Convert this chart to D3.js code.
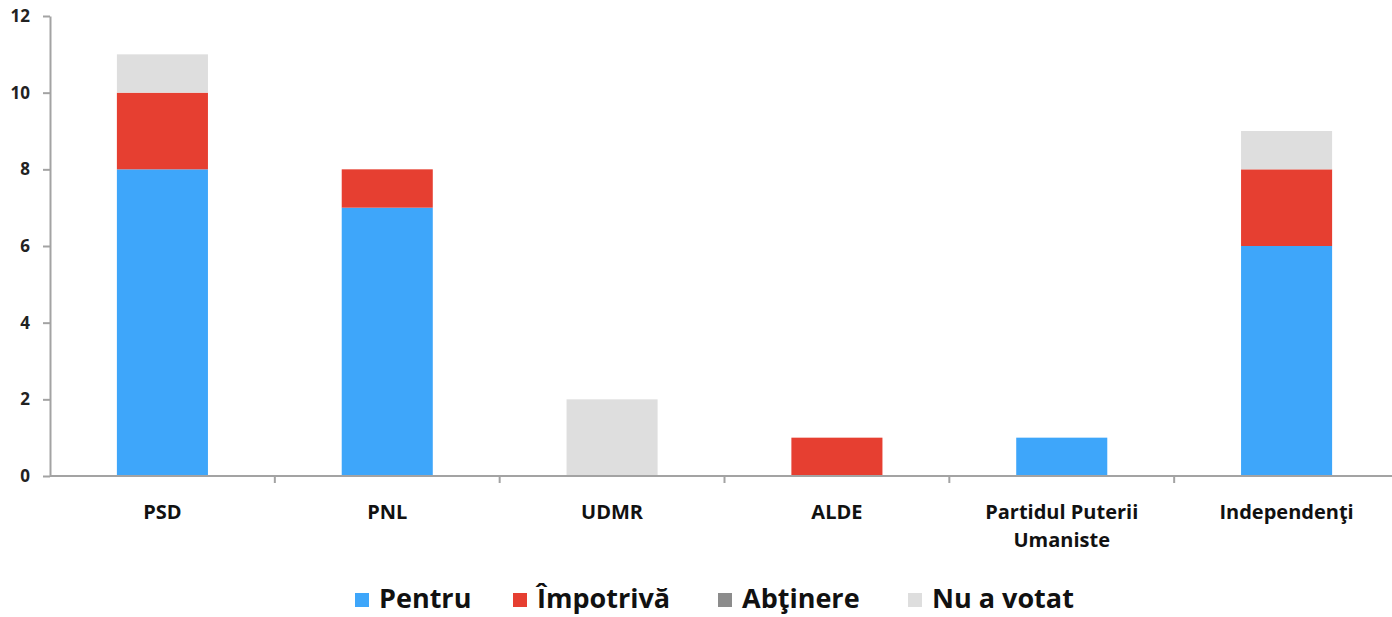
<!DOCTYPE html>
<html>
<head>
<meta charset="utf-8">
<script src="https://cdn.jsdelivr.net/npm/d3@7"></script>
<style>
	body { margin: 0; background: #fff; }
	svg { display: block; }
	svg text { font-family: "Open Sans", Lato, sans-serif; }
	.axis path, .axis line { stroke: #a3a3a3; stroke-width: 2; }
	.yAxis text { font-size: 17px; font-weight: bold; fill: #222; }
	.catLabel { font-size: 20px; font-weight: bold; fill: #111; }
	.legendText { font-size: 27px; font-weight: bold; fill: #111; }
</style>
</head>
<body>
<svg class="chart" width="1392" height="617"></svg>
<script>
// categories (parties) and vote counts per series
var parties = ["PSD", "PNL", "UDMR", "ALDE", "Partidul Puterii Umaniste", "Independenţi"];
var partyLines = [["PSD"], ["PNL"], ["UDMR"], ["ALDE"], ["Partidul Puterii", "Umaniste"], ["Independenţi"]];
var seriesNames = ["Pentru", "Împotrivă", "Abţinere", "Nu a votat"];
var seriesColors = ["#3ea6fa", "#e63f31", "#8c8c8c", "#dedede"];
var pentru    = [8, 7, 0, 0, 1, 6];
var impotriva = [2, 1, 0, 1, 0, 2];
var abtinere  = [0, 0, 0, 0, 0, 0];
var nuAVotat  = [1, 0, 2, 0, 0, 1];
var yTicks = [0, 2, 4, 6, 8, 10, 12];

var svg = d3.select(".chart");
var margin = {top: 16, left: 50, right: -7, bottom: 141};
var width = +svg.attr("width") - margin.left - margin.right;
var height = +svg.attr("height") - margin.top - margin.bottom;

var table = parties.map(function(p, i) {
	return {party: p, lines: partyLines[i], "Pentru": pentru[i], "Împotrivă": impotriva[i], "Abţinere": abtinere[i], "Nu a votat": nuAVotat[i]};
});
var stacked = d3.stack().keys(seriesNames)(table);

var xScale = d3.scaleBand().domain(parties).range([0, width]).padding(0);
var yScale = d3.scaleLinear().domain([0, 12]).range([height, 0]);
var color = d3.scaleOrdinal().domain(seriesNames).range(seriesColors);
var barW = xScale.bandwidth() * 0.405;

var g = svg.append("g").attr("transform", "translate(" + margin.left + "," + margin.top + ")");

// bars
g.selectAll(".series")
	.data(stacked)
	.enter().append("g")
	.attr("class", "series")
	.attr("fill", function(d) { return color(d.key); })
	.selectAll("rect")
	.data(function(d) { return d; })
	.enter().append("rect")
	.attr("x", function(d) { return xScale(d.data.party) + (xScale.bandwidth() - barW) / 2; })
	.attr("width", barW)
	.attr("y", function(d) { return yScale(d[1]); })
	.attr("height", function(d) { return yScale(d[0]) - yScale(d[1]); });

// y axis
g.append("g")
	.attr("class", "axis yAxis")
	.call(d3.axisLeft(yScale).tickValues(yTicks).tickSize(7).tickSizeOuter(0).tickPadding(13));

// x axis: line plus ticks on band edges
var xAxis = g.append("g").attr("class", "axis xAxis");
xAxis.append("line")
	.attr("x1", 0).attr("x2", width)
	.attr("y1", yScale(0)).attr("y2", yScale(0));
xAxis.selectAll(".edgeTick")
	.data(parties.slice(1))
	.enter().append("line")
	.attr("class", "edgeTick")
	.attr("x1", function(d) { return xScale(d); })
	.attr("x2", function(d) { return xScale(d); })
	.attr("y1", yScale(0)).attr("y2", yScale(0) + 7);

// category labels
var labels = g.selectAll(".catLabel")
	.data(table)
	.enter().append("text")
	.attr("class", "catLabel")
	.attr("text-anchor", "middle")
	.attr("x", function(d) { return xScale(d.party) + xScale.bandwidth() / 2; })
	.attr("y", yScale(0) + 43);
labels.selectAll("tspan")
	.data(function(d) { return d.lines; })
	.enter().append("tspan")
	.attr("x", function() { return d3.select(this.parentNode).attr("x"); })
	.attr("dy", function(d, i) { return i ? 28 : 0; })
	.text(function(d) { return d; });

// legend
var legendX = [355, 513, 718, 908];
var legend = svg.append("g").attr("class", "legend");
var item = legend.selectAll(".legendItem")
	.data(seriesNames)
	.enter().append("g")
	.attr("class", "legendItem")
	.attr("transform", function(d, i) { return "translate(" + legendX[i] + ",600)"; });
item.append("rect")
	.attr("x", 0).attr("y", -7)
	.attr("width", 14).attr("height", 14)
	.attr("fill", function(d) { return color(d); });
item.append("text")
	.attr("class", "legendText")
	.attr("x", 24)
	.attr("y", 8)
	.text(function(d) { return d; });
</script>
</body>
</html>
